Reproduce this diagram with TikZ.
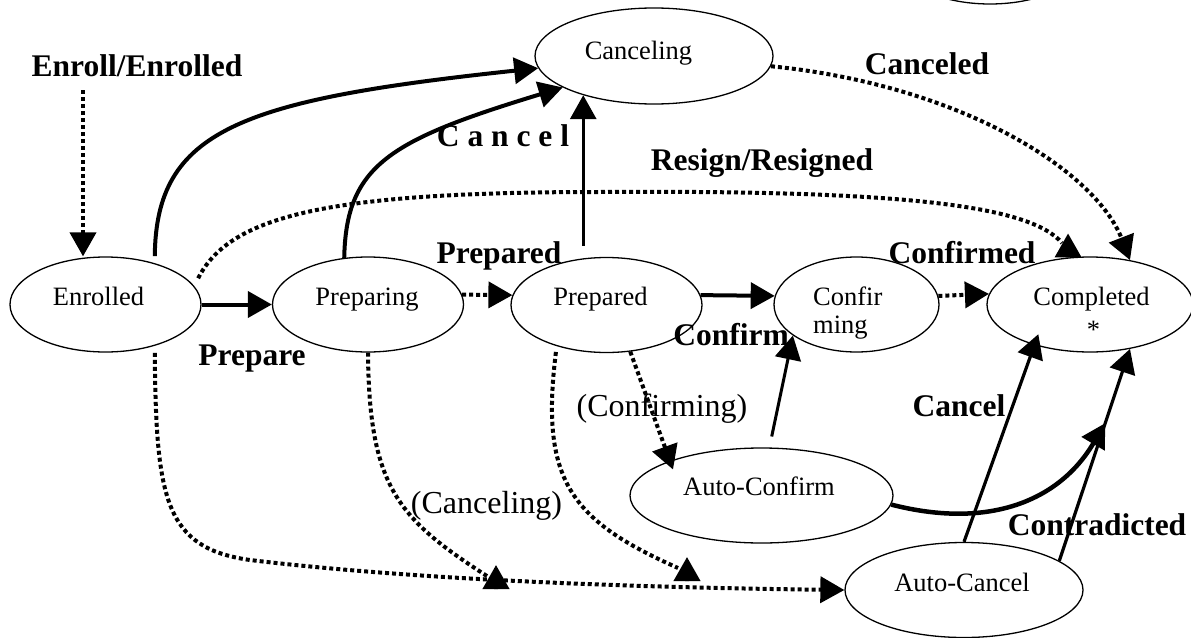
\documentclass[tikz,border=0pt]{standalone}
\usepackage{fontspec}
\setmainfont{Liberation Serif}
\usetikzlibrary{shapes.geometric,arrows.meta}

\tikzset{
  state/.style={ellipse, draw, line width=1.3pt, inner sep=0pt, minimum height=95pt},
  statetxt/.style={inner sep=0pt, anchor=base, font=\fontsize{26.5}{28}\selectfont},
  lbl/.style={inner sep=0pt, anchor=base, font=\bfseries\fontsize{31.5}{36}\selectfont},
  note/.style={inner sep=0pt, anchor=base, font=\fontsize{32}{36}\selectfont},
  flow/.style={line width=4pt, ->},
  hint/.style={line width=4pt, dash pattern=on 4pt off 3pt, ->},
}

\begin{document}
\begin{tikzpicture}[x=1pt, y=-1pt, >={Triangle[length=24pt,width=26pt]}]

\useasboundingbox (0,0) rectangle (1191,637);
\clip (0,0) rectangle (1191,637);

% states
\node[state, minimum width=191pt] (enrolled) at (105.5,304.5) {};
\node[state, minimum width=191pt] (preparing) at (368,304.5) {};
\node[state, minimum width=191pt] (prepared) at (606.5,305) {};
\node[state, minimum width=165pt] (confirming) at (856.5,304.5) {};
\node[state, minimum width=206pt] (completed) at (1090,304.5) {};
\node[state, minimum width=238pt, minimum height=96pt] (canceling) at (654,56) {};
\node[state, minimum width=263pt] (autoconfirm) at (761.5,495.5) {};
\node[state, minimum width=238pt] (autocancel) at (964,590) {};
\node[state, minimum width=190pt, minimum height=96pt] (upper) at (990,-44) {};

\node[statetxt] (enrolledtxt) at (98.5,305) {Enrolled};
\node[statetxt] (preparingtxt) at (367,305) {Preparing};
\node[statetxt] (preparedtxt) at (600.5,305) {Prepared};
\node[statetxt, anchor=base west] (confirtxt) at (813,305) {Confir};
\node[statetxt, anchor=base west] (mingtxt) at (813,333) {ming};
\node[statetxt] (completedtxt) at (1091.5,305) {Completed};
\node[statetxt] (startxt) at (1093.5,338) {*};
\node[statetxt] (cancelingtxt) at (638.5,59) {Canceling};
\node[statetxt] (autoconfirmtxt) at (759,495) {Auto-Confirm};
\node[statetxt] (autocanceltxt) at (962,591) {Auto-Cancel};

% labels
\node[lbl] (enrolllbl) at (137,76.5) {Enroll/Enrolled};
\node[lbl] (cancellbl) at (503,146.5) {C a n c e l};
\node[lbl] (canceledlbl) at (927,74) {Canceled};
\node[lbl] (resignlbl) at (762,170.5) {Resign/Resigned};
\node[lbl] (preparedlbl) at (499,263.5) {Prepared};
\node[lbl] (confirmedlbl) at (962,263) {Confirmed};
\node[lbl] (preparelbl) at (252,365) {Prepare};
\node[lbl] (confirmlbl) at (731,345) {Confirm};
\node[note] (confirmingnote) at (662,416.5) {(Confirming)};
\node[note] (cancelingnote) at (486.5,513) {(Canceling)};
\node[lbl] (autocancellbl) at (959,416.5) {Cancel};
\node[lbl] (contradictedlbl) at (1097,535) {Contradicted};

% free ends
\coordinate (enrollsrc) at (83,90);
\coordinate (joinA) at (496,589);
\coordinate (joinB) at (687,581);
\coordinate (cancelfoot) at (canceling.209 |- prepared.north);
\path (autocancel.17) -- coordinate[pos=0.65] (merge) (completed.312);

% main row
\draw[hint] (enrollsrc) -- (enrolled.north -| enrollsrc);
\draw[flow] (enrolled.east) -- (preparing.west);
\draw[hint] (preparing.6) -- (prepared.174);
\draw[flow] (prepared.6) -- (confirming.174);
\draw[hint] (confirming.6) -- (completed.174);

% to canceling
\draw[flow] ([yshift=7pt]enrolled.40) .. controls (156,130) and (240,100) .. (canceling.186);
\draw[flow] (preparing.117) .. controls (346,165) and (390,140) .. (canceling.199);
\draw[flow, line width=3.2pt] ([yshift=11pt]cancelfoot) -- (canceling.209);

% to completed
\draw[hint] (canceling.355) .. controls (960,85) and (1095,170) .. (completed.48);
\draw[hint] ([xshift=12pt]enrolled.18) .. controls (230,215) and (330,192) .. (600,192)
  .. controls (900,190) and (1030,205) .. (1062,243) (completed.115) -- ++(0,-24);

% automatic paths
\draw[hint] ([yshift=-7pt]enrolled.320) .. controls (156,500) and (165,548) .. (250,560)
  .. controls (400,578) and (600,587) .. (autocancel.west);
\draw[hint] (preparing.south) .. controls (369,490) and (400,520) .. (490,578) (joinA) -- ++(0,-24);
\draw[hint] ([yshift=-6pt]prepared.219) .. controls (540,480) and (570,520) .. (678,568) (joinB) -- ++(0,-24);
\draw[hint] (prepared.297) -- ([shift={(5,8)}]autoconfirm.160);
\draw[flow, line width=3pt] ([yshift=11pt]autoconfirm.78) -- (confirming.206);
\draw[flow, line width=4.5pt] (autoconfirm.356) .. controls (990,530) and (1060,500) .. (merge);
\draw[flow, line width=3.2pt] (autocancel.north) -- ([shift={(-8,-14)}]completed.225);
\draw[flow, line width=3.2pt] (autocancel.17) -- (completed.312);

\end{tikzpicture}
\end{document}
